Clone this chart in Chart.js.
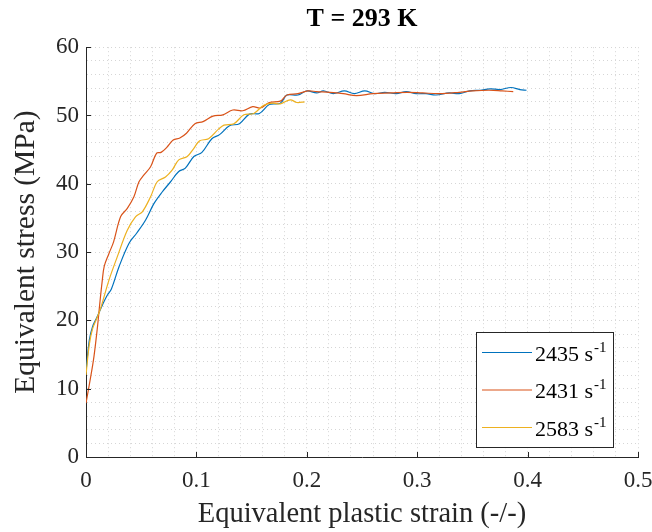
<!DOCTYPE html>
<html>
<head>
<meta charset="utf-8">
<title>T = 293 K</title>
<script src="https://cdn.jsdelivr.net/npm/chart.js@4.4.1/dist/chart.umd.min.js"></script>
<style>
  html, body { margin: 0; padding: 0; background: #fff; }
  canvas { display: block; }
</style>
</head>
<body>
<canvas id="stressChart" width="652" height="532"></canvas>
<script>
// strain rates shown in the legend (s^-1)
const rateLabels = ['2435', '2431', '2583'];
const lineColors = ['#0072BD', '#D95319', '#EDB120'];

// 2435 s^-1
const strain2435 = [0, 0.003, 0.006, 0.010, 0.015, 0.019, 0.023, 0.030, 0.039, 0.046, 0.054, 0.0615, 0.069, 0.0766, 0.084, 0.090, 0.0977, 0.105, 0.114, 0.121, 0.130, 0.139, 0.148, 0.157, 0.166, 0.176, 0.182, 0.192, 0.200, 0.209, 0.215, 0.224, 0.234, 0.243, 0.2525, 0.2615, 0.2706, 0.281, 0.290, 0.299, 0.308, 0.317, 0.329, 0.338, 0.3475, 0.357, 0.366, 0.375, 0.385, 0.393, 0.399];
const stress2435 = [12.5, 17.1, 19.1, 20.5, 22.3, 23.6, 24.6, 27.9, 31.3, 32.8, 34.7, 37.1, 38.8, 40.3, 41.8, 42.3, 44.0, 44.6, 46.6, 47.2, 48.5, 48.8, 50.2, 50.3, 51.6, 51.8, 53.0, 53.0, 53.6, 53.3, 53.6, 53.2, 53.6, 53.2, 53.6, 53.2, 53.4, 53.2, 53.5, 53.2, 53.2, 53.0, 53.3, 53.2, 53.6, 53.7, 53.9, 53.8, 54.1, 53.8, 53.7];

// 2431 s^-1
const strain2431 = [0, 0.004, 0.0072, 0.0105, 0.0125, 0.0145, 0.0165, 0.0208, 0.025, 0.0314, 0.0374, 0.0434, 0.048, 0.0525, 0.0585, 0.064, 0.068, 0.073, 0.079, 0.085, 0.091, 0.0987, 0.106, 0.115, 0.124, 0.133, 0.142, 0.151, 0.158, 0.166, 0.176, 0.182, 0.192, 0.201, 0.209, 0.221, 0.233, 0.245, 0.260, 0.276, 0.291, 0.305, 0.320, 0.338, 0.350, 0.365, 0.377, 0.387];
const stress2431 = [7.9, 11.5, 14.7, 19.2, 22.5, 25.5, 27.9, 29.8, 31.5, 35.2, 36.4, 38.1, 40.3, 41.3, 42.5, 44.5, 44.6, 45.3, 46.4, 46.7, 47.4, 48.8, 49.1, 49.9, 50.1, 50.8, 50.7, 51.3, 51.1, 51.9, 52.1, 53.0, 53.2, 53.6, 53.5, 53.4, 53.2, 52.9, 53.2, 53.3, 53.4, 53.3, 53.2, 53.4, 53.6, 53.7, 53.6, 53.5];

// 2583 s^-1
const strain2583 = [0, 0.003, 0.006, 0.010, 0.0133, 0.0208, 0.0283, 0.0374, 0.045, 0.051, 0.0585, 0.0645, 0.072, 0.078, 0.084, 0.0917, 0.0977, 0.103, 0.111, 0.120, 0.125, 0.134, 0.143, 0.152, 0.161, 0.169, 0.176, 0.185, 0.191, 0.198];
const stress2583 = [12.0, 16.5, 18.8, 20.4, 21.8, 25.9, 29.3, 33.2, 35.2, 35.9, 38.1, 40.3, 41.0, 42.0, 43.5, 44.0, 45.2, 46.3, 46.6, 48.0, 48.6, 48.8, 50.1, 50.3, 51.5, 51.8, 51.7, 52.3, 51.9, 52.0];

// labelled ticks; the dotted grid runs at finer steps in between
const xTicks = [0, 0.1, 0.2, 0.3, 0.4, 0.5];
const yTicks = [0, 10, 20, 30, 40, 50, 60];

const FONT = '"Liberation Serif", "Times New Roman", serif';
const AXIS = '#262626';
Chart.defaults.font.family = FONT;

const toPoints = (xs, ys) => xs.map((x, i) => ({ x, y: ys[i] }));
const isLabelled = (v, list) => list.some(t => Math.abs(t - v) < 1e-9);

// short inward tick marks on the two visible axes
const innerTicks = {
    id: 'innerTicks',
    afterDatasetsDraw(chart) {
        const { ctx, chartArea: a, scales: { x, y } } = chart;
        ctx.save();
        ctx.strokeStyle = AXIS;
        ctx.lineWidth = 1;
        ctx.beginPath();
        xTicks.forEach(v => {
            const px = Math.round(x.getPixelForValue(v)) + 0.5;
            ctx.moveTo(px, a.bottom);
            ctx.lineTo(px, a.bottom - 5);
        });
        yTicks.forEach(v => {
            const py = Math.round(y.getPixelForValue(v)) + 0.5;
            ctx.moveTo(a.left, py);
            ctx.lineTo(a.left + 5, py);
        });
        ctx.stroke();
        ctx.restore();
    }
};

// boxed legend in the lower right, with the s^-1 superscript
const legendBox = {
    id: 'legendBox',
    afterDraw(chart) {
        const { ctx, chartArea: a } = chart;
        const w = 137, h = 115;
        const x0 = Math.round(a.right - 25 - w), y0 = Math.round(a.bottom - 10 - h);
        ctx.save();
        ctx.fillStyle = '#fff';
        ctx.fillRect(x0, y0, w, h);
        ctx.strokeStyle = AXIS;
        ctx.lineWidth = 1;
        ctx.strokeRect(x0 + 0.5, y0 + 0.5, w, h);
        chart.data.datasets.forEach((ds, i) => {
            const ly = y0 + 20.5 + i * 37.5;
            ctx.strokeStyle = ds.borderColor;
            ctx.lineWidth = 1.2;
            ctx.beginPath();
            ctx.moveTo(x0 + 6, ly);
            ctx.lineTo(x0 + 56, ly);
            ctx.stroke();
            ctx.fillStyle = '#000';
            ctx.textBaseline = 'alphabetic';
            ctx.font = '22px ' + FONT;
            const main = ds.label + ' s';
            ctx.fillText(main, x0 + 59, ly + 8);
            const mw = ctx.measureText(main).width;
            ctx.font = '15px ' + FONT;
            ctx.fillText('-1', x0 + 59 + mw + 1, ly - 1);
        });
        ctx.restore();
    }
};

const series = [
    toPoints(strain2435, stress2435),
    toPoints(strain2431, stress2431),
    toPoints(strain2583, stress2583)
];

new Chart(document.getElementById('stressChart'), {
    type: 'line',
    data: {
        datasets: series.map((pts, i) => ({
            label: rateLabels[i],
            data: pts,
            borderColor: lineColors[i],
            borderWidth: 1.2,
            pointRadius: 0,
            tension: 0.35,
            fill: false,
            order: 3 - i // later series on top
        }))
    },
    options: {
        responsive: false,
        animation: false,
        layout: { padding: 0 },
        plugins: {
            legend: { display: false },
            tooltip: { enabled: false },
            title: {
                display: true,
                text: 'T = 293 K',
                fullSize: false,
                color: '#000',
                font: { size: 26, weight: 'bold' },
                padding: { top: 4, bottom: 12 }
            }
        },
        scales: {
            x: {
                type: 'linear',
                min: 0,
                max: 0.5,
                afterFit: s => {
                    s.height = 75;
                    // only the "0.5" label overhangs on the right
                    s.paddingLeft = 0;
                    s.paddingRight = 14;
                },
                grid: { color: '#d6d6d6', lineWidth: 1, drawTicks: false },
                border: { display: true, color: AXIS, width: 1, dash: [1, 3] },
                ticks: {
                    stepSize: 0.02,
                    autoSkip: false,
                    maxRotation: 0,
                    padding: 10,
                    color: AXIS,
                    font: { size: 23 },
                    callback: v => isLabelled(v, xTicks) ? String(Math.round(v * 10) / 10) : ''
                },
                title: {
                    display: true,
                    text: 'Equivalent plastic strain (-/-)',
                    color: AXIS,
                    font: { size: 28.5 },
                    padding: { top: 0, bottom: 0 }
                }
            },
            y: {
                type: 'linear',
                min: 0,
                max: 60,
                afterFit: s => { s.width = 86; },
                grid: { color: '#d6d6d6', lineWidth: 1, drawTicks: false },
                border: { display: true, color: AXIS, width: 1, dash: [1, 3] },
                ticks: {
                    stepSize: 2,
                    autoSkip: false,
                    padding: 7,
                    color: AXIS,
                    font: { size: 23 },
                    callback: v => isLabelled(v, yTicks) ? String(v) : ''
                },
                title: {
                    display: true,
                    text: 'Equivalent stress (MPa)',
                    color: AXIS,
                    font: { size: 29.5 },
                    padding: { top: 9, bottom: 0 }
                }
            }
        }
    },
    plugins: [innerTicks, legendBox]
});
</script>
</body>
</html>
